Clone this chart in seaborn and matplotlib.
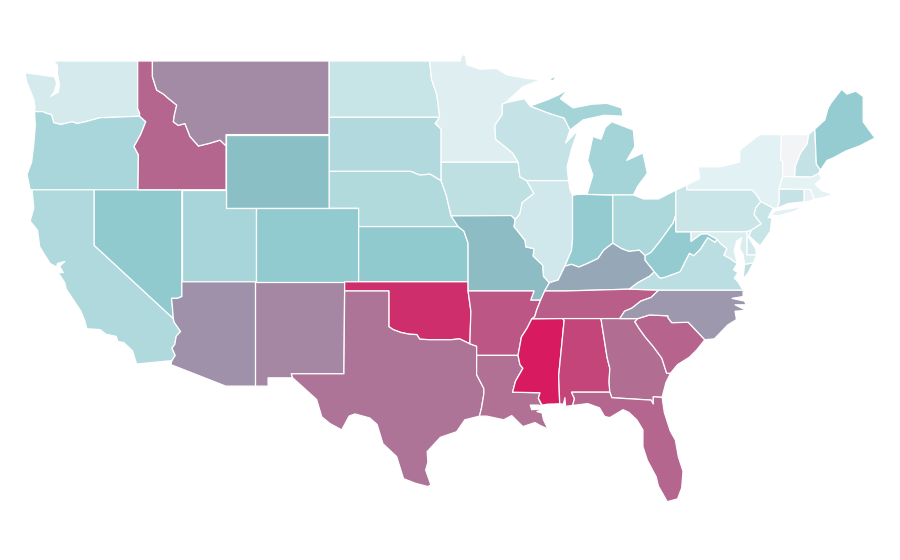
import matplotlib
matplotlib.use("Agg")
import matplotlib.pyplot as plt
import seaborn as sns
from matplotlib.colors import Normalize

STATE_NAMES = ["WA","OR","CA","NV","ID","MT","WY","UT","AZ","NM","CO","ND","SD","NE","KS","OK","TX",
               "MN","IA","MO","AR","LA","WI","IL","IN","MI","OH","KY","TN","MS","AL","GA","FL","SC","NC",
               "VA","WV","PA","NY","NJ","DE","MD","CT","RI","MA","VT","NH","ME"]
STATE_VALUES = [12.5,33,30,45,77,66,50,34,64,67,44.5,19,29,29.5,45,94,73,
                8,23,51,82,74,20,15,43.6,35.6,32,57,80,100,87,75,77,78,62,
                25,43.6,18,6.4,19,14,10.6,20,4,5,0,20.5,43]
SCALE_STOPS = [0, 5, 45, 50, 100]
SCALE_COLORS = ["#f3f4f6", "#e5f2f4", "#90cacf", "#8bbfc6", "#d81b60"]

# state borders, lon/lat
ID_MT = [(-116.05,49),(-116.05,48.15),(-115.76,47.42),(-115.3,47.2),(-114.97,46.97),(-114.4,46.6),(-114.55,46.1),(-114.63,45.7),(-114.3,45.5),(-113.84,45.6),(-113.5,44.9),(-113.0,44.45),(-112.93,44.38),(-112.2,44.52),(-111.46,44.7),(-111.12,44.44),(-111.05,44.47)]
COLUMBIA = [(-124.05,46.25),(-123.5,46.25),(-123.2,46.15),(-122.9,46.08),(-122.75,45.65),(-122.25,45.55),(-121.5,45.7),(-121.15,45.6),(-120.5,45.72),(-119.6,45.92),(-119.0,45.93),(-116.92,46.0)]
SNAKE = [(-116.92,46.0),(-116.5,45.7),(-116.85,45.0),(-117.3,44.35),(-117.0,43.9),(-117.03,42)]
COLORADO_R = [(-114.05,36.2),(-114.35,36.1),(-114.75,36.1),(-114.7,35.7),(-114.63,35.0)]
LOWER_COLO = [(-114.63,35.0),(-114.57,34.8),(-114.14,34.3),(-114.43,34.05),(-114.53,33.6),(-114.72,33.4),(-114.5,33.0),(-114.72,32.72)]
RED_R = [(-100,34.56),(-99.7,34.4),(-99.2,34.25),(-98.6,34.15),(-98.1,34.13),(-97.9,33.88),(-97.2,33.85),(-96.6,33.85),(-95.8,33.85),(-95.2,33.9),(-94.5,33.63)]
TX_LA = [(-94.04,33.0),(-94.04,31.95),(-93.55,31.2),(-93.55,30.9),(-93.72,30.1),(-93.85,29.7)]
MN_DAKOTA = [(-97.23,49),(-97.1,48),(-96.75,47.2),(-96.6,46.3),(-96.55,45.94),(-96.85,45.6),(-96.45,45.3),(-96.45,43.5)]
MO_R_UP = [(-96.45,42.49),(-96.1,41.7),(-95.9,41.0),(-95.77,40.58)]
MISS_UPPER = [(-92.3,46.65),(-92.3,46.1),(-92.8,45.5),(-92.75,44.75),(-91.6,44),(-91.22,43.5),(-91.1,42.7),(-90.65,42.5)]
MISS_IA_IL = [(-90.65,42.5),(-90.15,41.8),(-90.95,41.3),(-91.1,40.7),(-91.42,40.38)]
MISS_MO_IL = [(-91.42,40.38),(-91.5,40.0),(-90.75,39.25),(-90.7,38.9),(-90.15,38.8),(-90.2,38.4),(-89.55,37.9),(-89.5,37.3),(-89.1,36.95)]
MISS_KY = [(-89.1,36.95),(-89.42,36.5)]
MISS_TN_AR = [(-89.7,36.0),(-89.95,35.5),(-90.1,35.1),(-90.3,34.98)]
MISS_AR_MS = [(-90.3,34.98),(-90.6,34.5),(-91.0,34.0),(-91.23,33.0)]
MISS_LA_MS = [(-91.23,33.0),(-91.1,32.5),(-90.9,32.3),(-91.4,31.6),(-91.6,31.0)]
OHIO_R_OH = [(-82.6,38.42),(-83.0,38.72),(-83.7,38.65),(-84.2,38.8),(-84.8,39.1)]
OHIO_R_IN = [(-84.8,39.1),(-85.4,38.73),(-85.8,38.27),(-86.5,38.0),(-87.1,37.8),(-87.6,37.95),(-88.05,37.85)]
OHIO_R_IL = [(-88.05,37.85),(-88.5,37.1),(-89.1,36.95)]
OHIO_R_WV = [(-80.52,40.64),(-80.7,40.2),(-81.6,39.2),(-82.2,38.6),(-82.6,38.42)]
KY_WV = [(-82.6,38.42),(-82.6,38.17),(-81.97,37.54)]
KY_VA = [(-81.97,37.54),(-82.3,37.3),(-83.1,36.95),(-83.67,36.6)]
TN_NC = [(-84.32,35),(-84.0,35.4),(-83.5,35.57),(-82.9,35.95),(-82.2,36.15),(-81.68,36.55)]
SC_GA = [(-83.3,34.83),(-83.0,34.45),(-82.6,34.0),(-82.07,33.5),(-81.47,32.85),(-81.14,32.03),(-80.88,32.03)]
SC_NC = [(-83.1,35),(-82.3,35.2),(-81.05,35.15),(-81.05,35.05),(-80.8,34.78),(-79.67,34.8),(-78.55,33.85)]
WV_VA = [(-77.73,39.32),(-77.85,39.15),(-78.35,39.4),(-78.87,38.76),(-79.3,38.42),(-79.6,38.55),(-80.23,37.55),(-81.25,37.25),(-81.6,37.2),(-81.97,37.54)]
POTOMAC = [(-79.48,39.2),(-78.8,39.6),(-78.4,39.62),(-77.73,39.32)]
POTOMAC_VA = [(-77.73,39.32),(-77.5,39.1),(-77.05,38.8),(-77.25,38.45),(-76.9,38.3),(-76.35,38.0)]
DELAWARE_R = [(-75.35,42),(-75.05,41.75),(-74.75,41.36),(-75.1,41),(-75.2,40.65),(-74.72,40.15),(-75.4,39.8)]

def rev(line):
    return line[::-1]

SHAPES = {
 "WA": [[(-124.7,48.36),(-124.6,47.9),(-124.3,47.3),(-124.1,46.9),(-124.02,46.5)] + COLUMBIA + [(-116.92,46.17),(-117.05,46.42),(-117.05,49),(-122.75,49),(-122.5,48.75),(-122.5,48.3),(-122.35,47.7),(-122.45,47.3),(-122.95,47.08),(-122.7,47.35),(-122.55,47.8),(-122.7,48.15),(-123.1,48.18)]],
 "OR": [rev(COLUMBIA)[:-1] + [(-124.05,46.25),(-124.0,45.5),(-124.1,44.5),(-124.25,43.5),(-124.56,42.85),(-124.35,42)] + rev(SNAKE)],
 "CA": [[(-124.22,42),(-120,42),(-120,38.98)] + LOWER_COLO + [(-117.12,32.53),(-117.25,32.85),(-117.4,33.25),(-118.0,33.7),(-118.4,33.75),(-118.5,34.03),(-119.2,34.15),(-119.6,34.4),(-120.5,34.45),(-120.65,34.9),(-120.9,35.4),(-121.9,36.6),(-122.0,36.95),(-122.45,37.5),(-122.1,37.5),(-122.35,37.85),(-122.0,38.1),(-122.5,38.0),(-122.55,37.8),(-123,38),(-123.7,38.9),(-123.85,39.8),(-124.35,40.3),(-124.1,41)]],
 "NV": [[(-120,42),(-114.05,42)] + COLORADO_R + [(-120,38.98)]],
 "ID": [[(-117.05,49)] + ID_MT + [(-111.05,42),(-117.03,42)] + rev(SNAKE)[1:] + [(-116.92,46.17),(-117.05,46.42)]],
 "MT": [[(-104.05,49),(-104.05,45),(-111.05,45)] + rev(ID_MT)],
 "WY": [[(-111.05,45),(-104.05,45),(-104.05,41),(-111.05,41)]],
 "UT": [[(-114.05,42),(-111.05,42),(-111.05,41),(-109.05,41),(-109.05,37),(-114.05,37)]],
 "AZ": [[(-114.05,37),(-109.05,37),(-109.05,31.33),(-111.07,31.33),(-114.8,32.5)] + rev(LOWER_COLO) + rev(COLORADO_R)],
 "NM": [[(-109.05,37),(-103.0,37),(-103.05,32),(-106.62,32),(-106.53,31.78),(-108.2,31.78),(-108.2,31.33),(-109.05,31.33)]],
 "CO": [[(-109.05,41),(-102.05,41),(-102.05,37),(-109.05,37)]],
 "ND": [[(-104.05,49),(-97.23,49),(-97.1,48),(-96.75,47.2),(-96.6,46.3),(-96.55,45.94),(-104.05,45.94)]],
 "SD": [[(-104.05,45.94),(-96.55,45.94),(-96.85,45.6),(-96.45,45.3),(-96.45,42.49),(-97.2,42.85),(-97.9,42.8),(-98.5,43),(-104.05,43)]],
 "NE": [[(-104.05,43),(-98.5,43),(-97.9,42.8),(-97.2,42.85)] + MO_R_UP + [(-95.3,40),(-102.05,40),(-102.05,41),(-104.05,41)]],
 "KS": [[(-102.05,40),(-95.3,40),(-94.9,39.75),(-94.62,39.1),(-94.62,37),(-102.05,37)]],
 "OK": [[(-103,37),(-94.62,37),(-94.62,36.5),(-94.43,35.4)] + rev(RED_R) + [(-100,36.5),(-103,36.5)]],
 "TX": [[(-103.0,36.5),(-100,36.5)] + RED_R + [(-94.04,33.5)] + TX_LA + [(-94.84,29.5),(-95.4,28.85),(-96.5,28.55),(-97.4,27.77),(-97.35,27.2),(-97.5,26.77),(-97.15,25.97),(-97.34,25.87),(-98.2,26.05),(-99.0,26.3),(-99.47,27.5),(-100.4,28.2),(-100.8,29.25),(-101.3,29.6),(-102.3,29.82),(-102.7,29.7),(-103.2,28.95),(-104.0,29.3),(-104.55,29.66),(-104.9,30.6),(-106.0,31.4),(-106.53,31.78),(-106.62,32),(-103.05,32)]],
 "MN": [[(-97.23,49),(-95.15,49),(-95.05,49.35),(-94.8,49.3),(-94.7,48.8),(-93.8,48.55),(-92.7,48.6),(-92.0,48.25),(-90.65,48.05),(-89.7,47.98),(-90.9,47.6),(-92.1,46.72)] + MISS_UPPER[:6] + rev(MN_DAKOTA)],
 "IA": [[(-96.45,43.5)] + MISS_UPPER[5:] + MISS_IA_IL + [(-91.7,40.6)] + rev(MO_R_UP)],
 "MO": [[(-95.77,40.58),(-91.7,40.6)] + MISS_MO_IL + MISS_KY + [(-89.7,36.0),(-90.37,36.0),(-90.15,36.5),(-94.62,36.5),(-94.62,39.1),(-94.9,39.75),(-95.3,40)]],
 "AR": [[(-94.62,36.5),(-90.15,36.5),(-90.37,36.0)] + MISS_TN_AR + MISS_AR_MS + [(-94.04,33.0),(-94.04,33.5),(-94.5,33.63),(-94.43,35.4)]],
 "LA": [TX_LA + [(-93.36,29.7),(-92.2,29.5),(-91.66,29.73),(-90.9,29.13),(-90.08,29.35),(-89.75,29.2),(-89.2,29.0),(-89.5,29.5),(-89.6,29.87),(-89.95,29.95),(-89.45,30.1),(-90.3,30.05),(-90.4,30.3),(-89.85,30.3),(-89.6,30.2),(-89.85,30.67),(-89.74,30.97),(-91.6,31.0)] + rev(MISS_LA_MS)],
 "WI": [[(-92.3,46.65),(-92.1,46.72),(-90.8,46.95),(-90.4,46.55),(-89.1,46.15),(-88.1,45.9),(-87.7,45.25),(-88.0,44.55),(-87.15,45.25),(-87.6,44.2),(-87.9,43.25),(-87.8,42.5)] + rev(MISS_UPPER)],
 "IL": [[(-90.65,42.5),(-87.8,42.5),(-87.7,42.0),(-87.53,41.7),(-87.53,39.3),(-87.6,38.7),(-88.05,37.85)] + OHIO_R_IL + rev(MISS_MO_IL) + rev(MISS_IA_IL)],
 "IN": [[(-87.53,41.7),(-87.2,41.75),(-86.8,41.76),(-84.8,41.72),(-84.8,39.1)] + OHIO_R_IN[1:] + [(-87.6,38.7),(-87.53,39.3)]],
 "MI": [[(-90.4,46.55),(-89.2,46.9),(-88.5,47.15),(-87.85,47.45),(-88.35,46.95),(-87.5,46.45),(-86.2,46.65),(-85.2,46.7),(-84.2,46.45),(-84.1,46.0),(-85.4,46.05),(-86.8,45.8),(-87.7,45.25),(-88.1,45.9),(-89.1,46.15)],
        [(-84.87,45.7),(-83.4,45.25),(-83.3,44.35),(-83.85,43.6),(-82.75,44.0),(-82.45,42.9),(-83.1,42.2),(-83.4,41.72),(-84.8,41.72),(-86.55,41.75),(-86.15,42.8),(-86.5,43.6),(-86.15,44.9),(-85.6,44.75),(-85.3,45.4)],
        [(-89.15,48.0),(-88.6,48.2),(-88.85,47.92)]],
 "OH": [[(-84.8,41.72),(-83.4,41.72),(-82.7,41.5),(-81.7,41.5),(-80.52,41.98)] + OHIO_R_WV + OHIO_R_OH[1:]],
 "KY": [[(-89.42,36.5),(-88.05,36.5),(-83.67,36.6)] + rev(KY_VA)[1:] + rev(KY_WV)[1:] + OHIO_R_OH[1:] + OHIO_R_IN[1:] + OHIO_R_IL[1:]],
 "TN": [[(-90.3,34.98),(-88.2,35)] + TN_NC + [(-83.67,36.6),(-88.05,36.5),(-89.42,36.5)] + MISS_TN_AR[:-1]],
 "MS": [MISS_AR_MS + MISS_LA_MS[1:] + [(-89.74,30.97),(-89.85,30.67),(-89.6,30.3),(-89.2,30.35),(-88.4,30.37),(-88.47,31.9),(-88.1,34.9),(-88.2,35)]],
 "AL": [[(-88.2,35),(-85.6,35),(-85.18,32.87),(-85.0,32.3),(-85.05,31.55),(-85.0,31.0),(-87.6,31.0),(-87.4,30.65),(-87.52,30.28),(-88.0,30.23),(-88.05,30.7),(-88.15,30.35),(-88.4,30.37),(-88.47,31.9),(-88.1,34.9)]],
 "GA": [[(-85.6,35),(-83.1,35),(-83.3,34.83)] + SC_GA[1:] + [(-81.2,31.5),(-81.45,30.72),(-82.05,30.75),(-82.05,30.36),(-82.2,30.57),(-84.86,30.7),(-85,31),(-85.05,31.55),(-85.0,32.3),(-85.18,32.87)]],
 "FL": [[(-87.6,31),(-85,31),(-84.86,30.7),(-82.2,30.57),(-82.05,30.36),(-82.05,30.75),(-81.45,30.72),(-81.3,29.9),(-80.9,28.9),(-80.55,28.4),(-80.35,27.5),(-80.03,26.7),(-80.12,25.8),(-80.4,25.2),(-81.1,25.05),(-81.7,25.9),(-81.85,26.4),(-82.45,27.3),(-82.75,28.04),(-82.75,28.95),(-83.17,29.5),(-83.7,29.9),(-84.1,30.05),(-85.0,29.62),(-85.35,29.68),(-85.7,30.15),(-86.5,30.38),(-87.52,30.28),(-87.4,30.65)]],
 "SC": [SC_NC + [(-79.1,33.3),(-79.6,32.9),(-80.4,32.5)] + rev(SC_GA)],
 "NC": [TN_NC + [(-75.95,36.55),(-75.95,36.2),(-76.7,36.1),(-75.85,35.95),(-75.75,35.75),(-76.5,35.75),(-75.75,35.45),(-76.5,35.4),(-76.4,34.95),(-77.0,34.65),(-77.9,33.9)] + rev(SC_NC)],
 "VA": [[(-83.67,36.6),(-81.68,36.55),(-75.95,36.55),(-76.3,37),(-76.55,37.2),(-76.3,37.5),(-76.6,37.65),(-76.35,38.0)] + rev(POTOMAC_VA)[1:] + WV_VA[1:] + KY_VA[1:],
        [(-75.95,37.15),(-75.6,37.5),(-75.25,38.03),(-75.85,37.95)]],
 "WV": [[(-80.52,40.64),(-80.52,39.72),(-79.48,39.72)] + POTOMAC + WV_VA[1:] + KY_WV[::-1][1:] + rev(OHIO_R_WV)[1:]],
 "PA": [[(-80.52,41.98),(-79.76,42.27),(-79.76,42)] + DELAWARE_R + [(-75.7,39.72),(-80.52,39.72)]],
 "NY": [[(-79.76,42.27),(-78.9,42.6),(-79.0,43.25),(-77.5,43.25),(-76.2,43.5),(-76.16,44.16),(-75.0,44.9),(-74.7,45),(-73.35,45),(-73.4,43.6),(-73.25,43.55),(-73.27,42.72),(-73.5,42.05),(-73.5,41.3),(-73.65,41.0),(-73.9,41.0),(-74.75,41.36),(-75.05,41.75),(-75.35,42),(-79.76,42)],
        [(-74.03,40.6),(-73.8,40.85),(-72.6,41.0),(-71.86,41.08),(-72.5,40.82),(-73.5,40.6)]],
 "NJ": [[(-74.75,41.36),(-73.9,41.0),(-74.25,40.5),(-74,40.45),(-74.1,39.75),(-74.8,38.95),(-75.15,39.2),(-75.55,39.5),(-75.4,39.8),(-74.72,40.15),(-75.2,40.65),(-75.1,41)]],
 "DE": [[(-75.7,39.72),(-75.4,39.8),(-75.6,39.45),(-75.1,38.8),(-75.05,38.45),(-75.7,38.46)]],
 "MD": [[(-79.48,39.72),(-75.7,39.72),(-75.7,38.46),(-75.05,38.45),(-75.25,38.03),(-75.85,37.95),(-75.95,38.5),(-76.2,38.8),(-76.05,39.4),(-76.4,39.2),(-76.55,38.7),(-76.35,38.0)] + POTOMAC_VA[::-1][1:] + POTOMAC[::-1][1:]],
 "CT": [[(-73.5,42.05),(-71.8,42.02),(-71.8,41.35),(-72.9,41.25),(-73.65,41.0),(-73.5,41.3)]],
 "RI": [[(-71.8,42.02),(-71.38,42.02),(-71.12,41.5),(-71.5,41.37),(-71.8,41.35)]],
 "MA": [[(-73.5,42.05),(-73.27,42.72),(-71.3,42.7),(-70.85,42.88),(-70.6,42.65),(-71.05,42.3),(-70.6,41.95),(-70,41.8),(-70,41.7),(-70.65,41.55),(-71.12,41.5),(-71.38,42.02),(-71.8,42.02)]],
 "VT": [[(-73.35,45),(-71.5,45),(-71.6,44.5),(-72.05,44.0),(-72.4,43.3),(-72.45,42.72),(-73.27,42.72),(-73.25,43.55),(-73.4,43.6)]],
 "NH": [[(-71.5,45.0),(-71.08,45.3),(-70.98,43.4),(-70.7,43.07),(-70.85,42.88),(-71.3,42.7),(-72.45,42.72),(-72.4,43.3),(-72.05,44),(-71.6,44.5)]],
 "ME": [[(-71.08,45.3),(-70.4,45.8),(-70.2,46.4),(-70,46.7),(-69.27,47.46),(-68.9,47.2),(-68.3,47.36),(-67.8,47.07),(-67.8,45.7),(-67.45,45.3),(-67,44.82),(-68,44.4),(-69,44.1),(-69.8,43.75),(-70.25,43.6),(-70.7,43.07),(-70.98,43.4)]],
}

sns.set_theme(style="white")
fig = plt.figure(figsize=(9, 5.6), dpi=100)
ax = fig.add_axes([0, 0, 1, 1])

span = SCALE_STOPS[-1] - SCALE_STOPS[0]
stops = [(s - SCALE_STOPS[0]) / span for s in SCALE_STOPS]
# seaborn palette sampled so the colour stops fall at their scale positions
segments = []
for i in range(len(stops) - 1):
    n = max(2, int(round((stops[i + 1] - stops[i]) * 400)) + 1)
    segments += sns.blend_palette([SCALE_COLORS[i], SCALE_COLORS[i + 1]], n_colors=n)[:-1]
segments.append(matplotlib.colors.to_rgb(SCALE_COLORS[-1]))
cmap = matplotlib.colors.ListedColormap(segments)
norm = Normalize(SCALE_STOPS[0], SCALE_STOPS[-1])

for name, value in zip(STATE_NAMES, STATE_VALUES):
    for ring in SHAPES[name]:
        lon, lat = zip(*ring)
        ax.fill(lon, lat, facecolor=cmap(norm(value)), edgecolor="white", linewidth=0.9, joinstyle="round")

ax.set_xlim(-126.397, -65.30)
ax.set_ylim(21.88, 52.315)
ax.axis("off")
fig.savefig("out.png", dpi=100, facecolor="white")
